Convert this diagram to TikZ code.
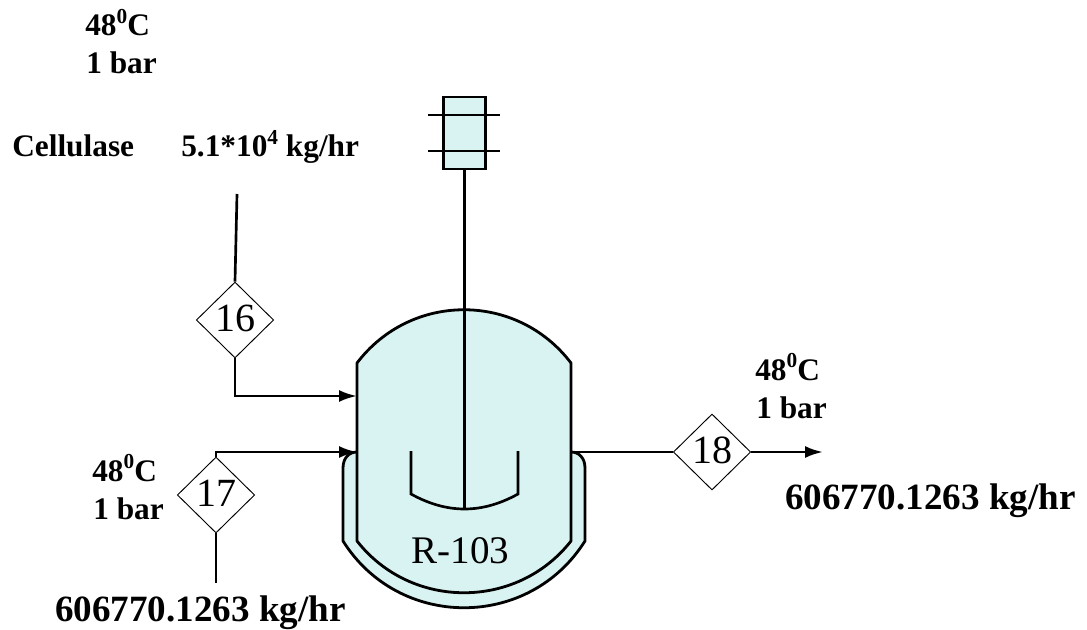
\documentclass[tikz,border=0pt]{standalone}
\usepackage{fontspec}
\setmainfont{Liberation Serif}
\usetikzlibrary{shapes.geometric,arrows.meta}
\definecolor{rctfill}{HTML}{D8F3F1}
\newcommand{\supdigit}[1]{\raisebox{9.5pt}{\fontsize{16}{16}\selectfont #1}}

\begin{document}
\begin{tikzpicture}[x=0.75pt, y=-0.75pt,
    smalllbl/.style={font=\fontsize{23.5}{26}\selectfont\bfseries, inner sep=0pt, anchor=base west},
    biglbl/.style={font=\fontsize{27.8}{32}\selectfont\bfseries, inner sep=0pt, anchor=base west},
    streamtag/.style={diamond, draw=black, line width=0.7pt, fill=white, inner sep=0pt, minimum width=58pt, minimum height=57pt, text depth=2pt, font=\fontsize{30}{34}\selectfont},
    pipe/.style={line width=2pt},
    flow/.style={pipe, -{Latex[length=13.5pt,width=9pt]}},
    wall/.style={line width=2.1pt, draw=black, fill=rctfill}]
  \useasboundingbox (0,0) rectangle (1087,630);

  % jacket and vessel
  \draw[wall, line join=round] (357,452) .. controls (349,452) and (343,458) .. (343,468) -- (343,541)
      .. controls (399,630) and (529,630) .. (585,541) -- (585,468)
      .. controls (585,458) and (579,452) .. (571,452) -- cycle;
  \draw[wall, line join=round] (357,363) .. controls (411,292) and (517,292) .. (571,363) -- (571,541)
      .. controls (517,610) and (411,610) .. (357,541) -- cycle;
  \node[font=\fontsize{29.3}{32}\selectfont, inner sep=0pt, anchor=base] (rlabel) at (460.5,563) {R-103};

  % agitator
  \node[rectangle, wall, minimum width=32pt, minimum height=54pt, inner sep=0pt] (motor) at (464.5,133) {};
  \coordinate (bladetip) at (464.5,509);
  \draw[pipe] (motor.south) -- (bladetip);
  \draw[pipe] (411,451) -- (411,494) .. controls (447,514) and (482,514) .. (518,494) -- (518,451);
  \coordinate (barA) at (428,115);
  \coordinate (barB) at (500,115);
  \coordinate (barC) at (428,151);
  \coordinate (barD) at (500,151);
  \draw[pipe] (barA) -- (barB);
  \draw[pipe] (barC) -- (barD);

  % streams
  \node[streamtag] (s16) at (235,320) {16};
  \node[streamtag] (s17) at (216,495) {17};
  \node[streamtag] (s18) at (712,452) {18};

  \coordinate (feedtop) at (237,194);
  \coordinate (in16) at (357,396);
  \coordinate (in17) at (357,452);
  \coordinate (low17) at (216,583);
  \coordinate (out18) at (571,452);
  \coordinate (end18) at (823,452);

  \draw[pipe] (feedtop) -- (s16.north);
  \draw[flow] (s16.south) |- (in16);
  \draw[pipe] (low17) -- (s17.south);
  \draw[flow] (s17.north) |- (in17);
  \draw[pipe] (out18) -- (s18.west);
  \draw[flow] (s18.east) -- (end18);

  % labels
  \node[smalllbl] (t1) at (85,36) {48\supdigit{0}C};
  \node[smalllbl] (p1) at (86,74) {1 bar};
  \node[smalllbl] (name1) at (12,157) {Cellulase};
  \node[smalllbl] (rate1) at (181,157) {5.1*10\supdigit{4} kg/hr};
  \node[smalllbl] (t2) at (755,380) {48\supdigit{0}C};
  \node[smalllbl] (p2) at (756,418) {1 bar};
  \node[smalllbl] (t3) at (92,481) {48\supdigit{0}C};
  \node[smalllbl] (p3) at (93,519) {1 bar};
  \node[biglbl] (rate2) at (785,509) {606770.1263 kg/hr};
  \node[biglbl] (rate3) at (55,621) {606770.1263 kg/hr};
\end{tikzpicture}
\end{document}
